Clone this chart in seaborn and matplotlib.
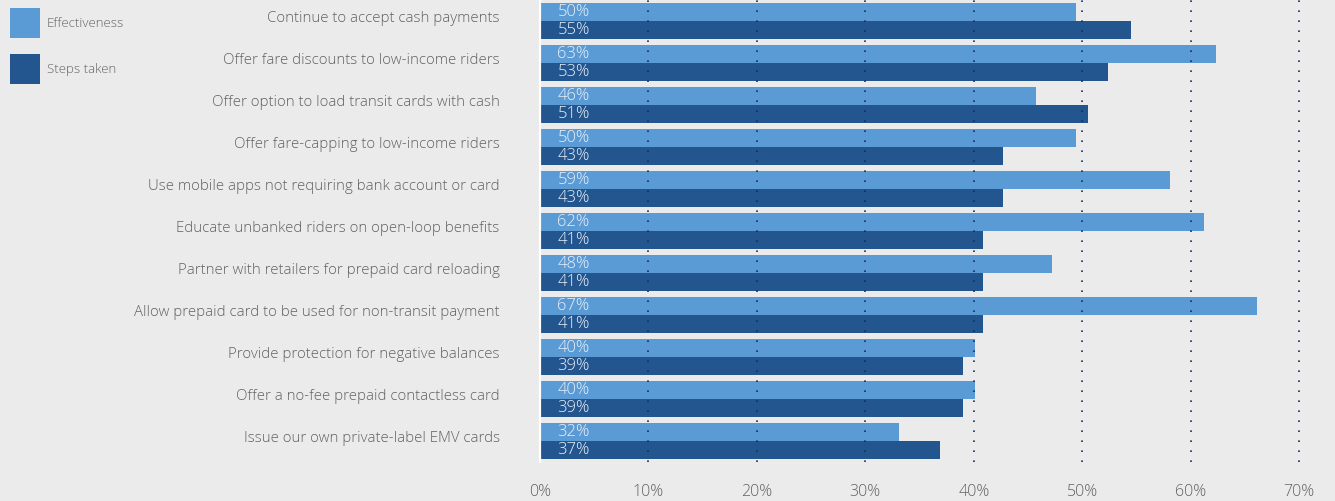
import matplotlib

matplotlib.use("Agg")
import matplotlib.pyplot as plt
import matplotlib.transforms as mtransforms
import pandas as pd
import seaborn as sns

categories = [
    "Continue to accept cash payments",
    "Offer fare discounts to low-income riders",
    "Offer option to load transit cards with cash",
    "Offer fare-capping to low-income riders",
    "Use mobile apps not requiring bank account or card",
    "Educate unbanked riders on open-loop benefits",
    "Partner with retailers for prepaid card reloading",
    "Allow prepaid card to be used for non-transit payment",
    "Provide protection for negative balances",
    "Offer a no-fee prepaid contactless card",
    "Issue our own private-label EMV cards",
]
series = ["Effectiveness", "Steps taken"]

# bar lengths as drawn, and the printed labels
effectiveness = [49.4, 62.3, 45.7, 49.4, 58.1, 61.2, 47.2, 66.1, 40.1, 40.1, 33.1]
steps_taken = [54.5, 52.4, 50.5, 42.7, 42.7, 40.8, 40.8, 40.8, 39.0, 39.0, 36.9]
effectiveness_labels = ["50%", "63%", "46%", "50%", "59%", "62%", "48%", "67%", "40%", "40%", "32%"]
steps_labels = ["55%", "53%", "51%", "43%", "43%", "41%", "41%", "41%", "39%", "39%", "37%"]
x_ticks = [0, 10, 20, 30, 40, 50, 60, 70]

LIGHT = "#5b9bd5"
DARK = "#23558f"
BG = "#ebebeb"
GREY = "#626262"

df = pd.DataFrame({
    "category": categories * 2,
    "series": [series[0]] * len(categories) + [series[1]] * len(categories),
    "value": effectiveness + steps_taken,
})

sns.set_theme(style="white")
plt.rcParams["font.family"] = ["Open Sans", "DejaVu Sans"]

fig = plt.figure(figsize=(13.35, 5.01), dpi=100, facecolor=BG)
ax = fig.add_axes([540 / 1335, 39 / 501, 1 - 540 / 1335, 462 / 501])
ax.set_facecolor(BG)

sns.barplot(
    data=df, y="category", x="value", hue="series", orient="h",
    palette=[LIGHT, DARK], width=0.88, saturation=1, ax=ax, legend=True,
    linewidth=0, edgecolor="none",
)

for container, labels in zip(ax.containers, [effectiveness_labels, steps_labels]):
    for bar, text in zip(container, labels):
        ax.text(1.6, bar.get_y() + bar.get_height() / 2, text, color="#e9f0f8",
                fontsize=12, fontweight="light", va="center", ha="left", zorder=5)

ax.set_xlim(0, 73.3)
ax.set_ylim(10.5, -0.5)
ax.set_xticks(x_ticks)
ax.set_xticklabels([f"{t}%" for t in x_ticks])
ax.set_xlabel("")
ax.set_ylabel("")
ax.tick_params(axis="x", length=0, pad=15.5, labelsize=11.5, labelcolor=GREY)
ax.tick_params(axis="y", length=0, pad=29, labelsize=10.8, labelcolor=GREY)
shift = mtransforms.ScaledTranslation(0, 4.5 / 100, fig.dpi_scale_trans)
for lab in ax.get_yticklabels():
    lab.set_transform(lab.get_transform() + shift)
    lab.set_fontweight("light")
for lab in ax.get_xticklabels():
    lab.set_fontweight("light")

ax.set_axisbelow(False)
ax.grid(axis="x", color="#1a2a66", linewidth=1.2, linestyle=(0, (1, 5)))
ax.grid(axis="y", visible=False)
ax.get_xgridlines()[0].set_visible(False)
for side in ["top", "right", "bottom"]:
    ax.spines[side].set_visible(False)
ax.spines["left"].set_color("white")
ax.spines["left"].set_linewidth(1.6)
ax.spines["left"].set_zorder(6)

handles, labels = ax.get_legend_handles_labels()
ax.get_legend().remove()
fig.legend(
    handles, labels, loc="upper left", bbox_to_anchor=(10 / 1335, 1 - 8 / 501),
    frameon=False, prop={"size": 9.5, "weight": "light"}, labelcolor=GREY,
    handlelength=2.27, handleheight=3.12,
    handletextpad=0.53, labelspacing=1.21, borderpad=0, borderaxespad=0,
)

fig.savefig("out.png", dpi=100, facecolor=BG)
